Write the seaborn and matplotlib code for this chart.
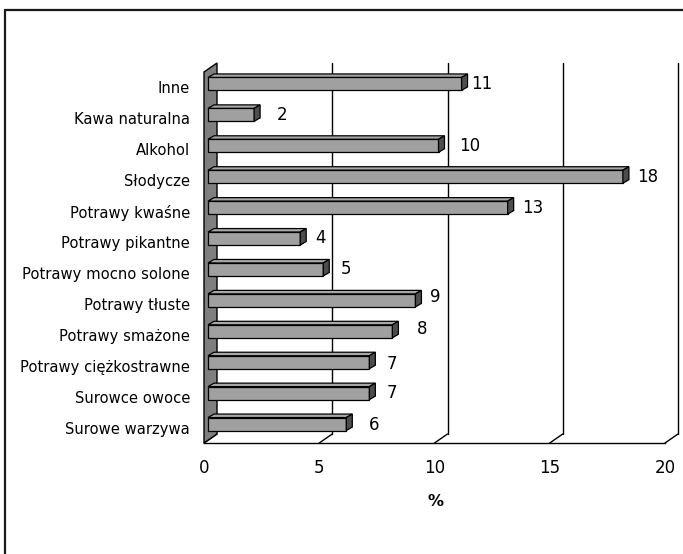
import numpy as np
import pandas as pd
import matplotlib
matplotlib.use("Agg")
import matplotlib.pyplot as plt
from matplotlib.patches import Polygon
from matplotlib.lines import Line2D
from matplotlib.transforms import IdentityTransform
import seaborn as sns

# Produkty nasilające dolegliwości (%)
categories = [
    "Inne",
    "Kawa naturalna",
    "Alkohol",
    "Słodycze",
    "Potrawy kwaśne",
    "Potrawy pikantne",
    "Potrawy mocno solone",
    "Potrawy tłuste",
    "Potrawy smażone",
    "Potrawy ciężkostrawne",
    "Surowce owoce",
    "Surowe warzywa",
]
values = [11, 2, 10, 18, 13, 4, 5, 9, 8, 7, 7, 6]
x_ticks = [0, 5, 10, 15, 20]
x_label = "%"

# label placement (pixels, relative to the value point on the front plane)
label_dx = [14, 27, 25, 18, 18, 19, 21, 19, 28, 21, 21, 27]
label_dy = [5, 5, 5, 5, 5, 6, 5, 8, 7, 3, 5, 4]

DPI = 100
W, H = 683, 554
sns.set_style("white")
plt.rcParams["font.family"] = ["DejaVu Sans"]
plt.rcParams["text.color"] = "black"
plt.rcParams["xtick.color"] = "black"
plt.rcParams["ytick.color"] = "black"
plt.rcParams["xtick.labelcolor"] = "black"
plt.rcParams["ytick.labelcolor"] = "black"

fig = plt.figure(figsize=(W / DPI, H / DPI), dpi=DPI)
fig.patch.set_facecolor("white")

# front plane of the 3-D box (pixels)
left, right, top, bottom = 204, 665, 72, 443
ax = fig.add_axes([left / W, (H - bottom) / H, (right - left) / W, (bottom - top) / H])
ax.set_facecolor("none")

df = pd.DataFrame({"kategoria": categories, "procent": values})
sns.barplot(data=df, x="procent", y="kategoria", orient="h", order=categories,
            color="#a0a0a0", saturation=1, width=0.42,
            edgecolor="black", linewidth=0.9, ax=ax, zorder=5)

ax.set_xlim(0, 20)
ax.set_ylim(len(categories) - 0.5, -0.5)
ax.set_xlabel("")
ax.set_ylabel("")
for s in ["top", "right", "left"]:
    ax.spines[s].set_visible(False)
ax.spines["bottom"].set_linewidth(1.0)
ax.spines["bottom"].set_color("black")

ax.set_xticks(x_ticks)
ax.set_xticklabels([str(t) for t in x_ticks], fontsize=12)
ax.tick_params(axis="x", direction="out", length=4.3, width=1.0, color="black", pad=7)
ax.set_yticks(range(len(categories)))
ax.set_yticklabels(categories, fontsize=10.6)
ax.set_yticks(np.arange(-0.5, len(categories), 1), minor=True)
ax.tick_params(axis="y", which="major", length=0, pad=10)
ax.tick_params(axis="y", which="minor", direction="out", length=5.8, width=1.0, color="black")
ax.grid(False)

fig.canvas.draw()
td = ax.transData
ident = IdentityTransform()

# depth of the box and of the bars (pixels, y up)
depth = np.array([13.0, 9.0])
face0 = np.array([4.0, 3.5])
face1 = np.array([10.0, 7.0])

y_lo, y_hi = ax.get_ylim()

# back-wall gridlines and floor connectors
for t in x_ticks:
    fb = td.transform((t, y_lo))
    ft = td.transform((t, y_hi))
    if t > 0:
        fig.add_artist(Line2D([fb[0] + depth[0], ft[0] + depth[0]],
                              [fb[1] + depth[1], ft[1] + depth[1]],
                              transform=ident, color="black", lw=1.0, zorder=1))
    fig.add_artist(Line2D([fb[0], fb[0] + depth[0]], [fb[1], fb[1] + depth[1]],
                          transform=ident, color="black", lw=1.0, zorder=1))

# left wall
wb = td.transform((0, y_lo))
wt = td.transform((0, y_hi))
wall = Polygon([wb, wt, wt + depth, wb + depth], closed=True, transform=ident,
               facecolor="#7f7f7f", edgecolor="black", lw=1.0, zorder=2)
fig.add_artist(wall)

# bars: shift the front faces and add top / end faces
for p in ax.patches:
    x0, y0 = p.get_x(), p.get_y()
    w, h = p.get_width(), p.get_height()
    bl = td.transform((x0, y0 + h))
    tl = td.transform((x0, y0))
    br = td.transform((x0 + w, y0 + h))
    tr = td.transform((x0 + w, y0))
    front = [bl + face0, tl + face0, tr + face0, br + face0]
    topf = [tl + face0, tr + face0, tr + face1, tl + face1]
    endf = [tr + face0, br + face0, br + face1, tr + face1]
    p.set_visible(False)
    fig.add_artist(Polygon(topf, closed=True, transform=ident, facecolor="#a8a8a8",
                           edgecolor="black", lw=0.9, zorder=6))
    fig.add_artist(Polygon(front, closed=True, transform=ident, facecolor="#a0a0a0",
                           edgecolor="black", lw=0.9, zorder=6))
    fig.add_artist(Polygon(endf, closed=True, transform=ident, facecolor="#4d4d4d",
                           edgecolor="black", lw=0.9, zorder=6))

# value labels
for i, v in enumerate(values):
    ax.annotate(str(v), xy=(v, i), xytext=(label_dx[i], label_dy[i] - 1.5),
                textcoords="offset pixels", ha="left", va="center",
                fontsize=12, color="black", annotation_clip=False)

fig.text(435 / W, 1 - 501 / H, x_label, ha="center", va="center",
         fontsize=11.5, fontweight="bold")

# chart frame
fig.add_artist(Line2D([5 / W, 5 / W], [0, 1 - 10 / H], transform=fig.transFigure,
                      color="#1a1a1a", lw=1.6))
fig.add_artist(Line2D([5 / W, 1], [1 - 10 / H, 1 - 10 / H], transform=fig.transFigure,
                      color="#1a1a1a", lw=1.6))

fig.savefig("out.png", dpi=DPI, facecolor="white")
